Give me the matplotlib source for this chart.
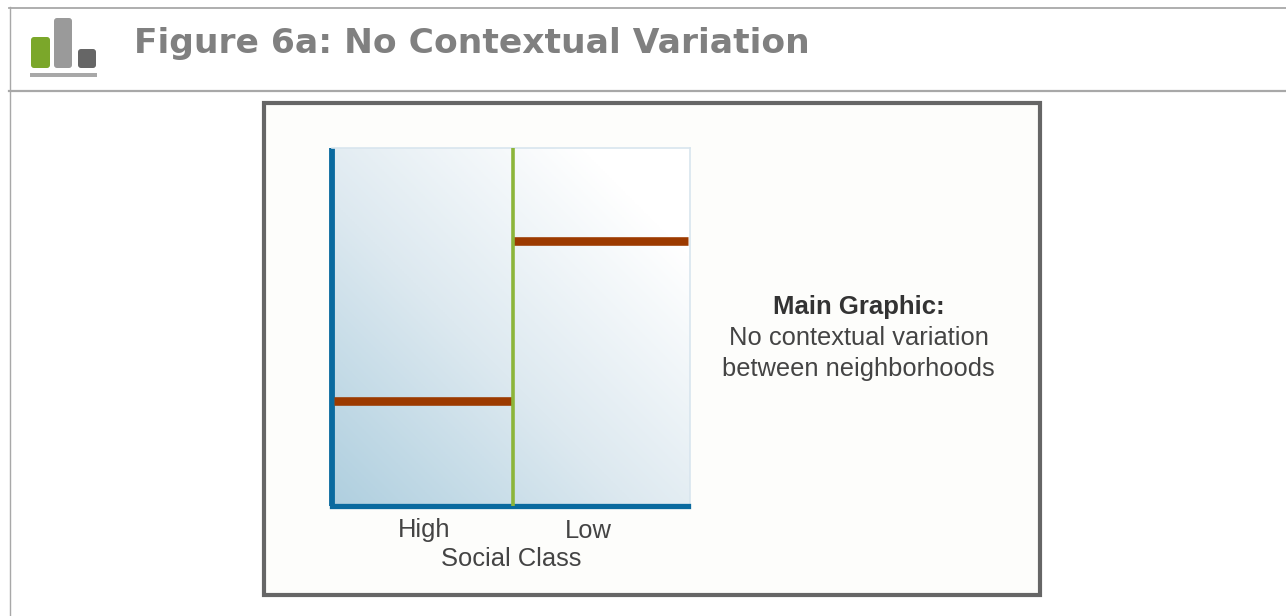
import matplotlib
matplotlib.use("Agg")
import matplotlib.pyplot as plt
from matplotlib.patches import FancyBboxPatch, Rectangle
from matplotlib.colors import LinearSegmentedColormap
import numpy as np

W, H = 1286, 616

# chart values
categories = ["High", "Low"]
values = [29.3, 74]
xlabel = "Social Class"
title = "Figure 6a: No Contextual Variation"
note_head = "Main Graphic:"
note_lines = ["No contextual variation", "between neighborhoods"]

# icon bars: height of each bar
icon_heights = [31, 50, 19]
icon_colors = ["#7ba72a", "#9a9a9a", "#666666"]

fig = plt.figure(figsize=(W / 100, H / 100), dpi=100, facecolor="white")

# page layer in pixel coordinates
page = fig.add_axes([0, 0, 1, 1])
page.set_xlim(0, W)
page.set_ylim(H, 0)
page.axis("off")

page.plot([9, W], [7.5, 7.5], color="#a8a8a8", lw=1.3)
page.plot([9, W], [91, 91], color="#a8a8a8", lw=1.6)
page.plot([9.5, 9.5], [7, H], color="#a8a8a8", lw=1.0)

# icon
for x0, w, h, c in zip([31, 54, 78], [19, 18, 18], icon_heights, icon_colors):
    page.add_patch(FancyBboxPatch((x0 + 3, 68 - h + 3), w - 6, h - 6,
                                  boxstyle="round,pad=3", fc=c, ec="none"))
page.add_patch(Rectangle((30, 73), 67, 4, fc="#a8a8a8", ec="none"))

page.text(134, 43, title, fontsize=24.8, fontweight="bold", color="#808080",
          family="DejaVu Sans", va="center", ha="left")

# chart frame
page.add_patch(Rectangle((264, 103), 776, 492, fc="#fdfdfb", ec="#666666", lw=3))

page.text(858.5, 307, note_head, fontsize=18.5, fontweight="bold", color="#333333",
          family="Liberation Sans", ha="center", va="center")
page.text(858.5, 338, note_lines[0], fontsize=18.4, color="#444444",
          family="Liberation Sans", ha="center", va="center")
page.text(858.5, 369, note_lines[1], fontsize=18.4, color="#444444",
          family="Liberation Sans", ha="center", va="center")

# plot
ax = fig.add_axes([332 / W, 1 - 506 / H, 358 / W, 358 / H])
ax.set_xlim(0, 2)
ax.set_ylim(0, 100)

cmap = LinearSegmentedColormap.from_list("bg", ["#afcfdf", "#dde9f0", "#ffffff"])
xx, yy = np.meshgrid(np.linspace(0, 1, 200), np.linspace(0, 1, 200))
ax.imshow((xx + yy) / 1.7, origin="lower", extent=[0, 2, 0, 100], aspect="auto",
          cmap=cmap, vmin=0, vmax=1, zorder=0)

# divider sits a little right of the middle in the original
divider = 1.011
ax.hlines(values[0], 0.012, divider, color="#9c3a00", lw=6.2, zorder=3)
ax.hlines(values[1], divider, 1.99, color="#9c3a00", lw=6.2, zorder=3)
ax.axvline(divider, color="#8cb53a", lw=2.6, zorder=4)

for side in ["left", "bottom"]:
    ax.spines[side].set_color("#0a6a9f")
ax.spines["left"].set_capstyle("butt")
ax.spines["bottom"].set_capstyle("projecting")
ax.spines["bottom"].set_bounds(0, 1.988)
ax.spines["left"].set_linewidth(4.2)
ax.spines["bottom"].set_linewidth(3.8)
for side in ["top", "right"]:
    ax.spines[side].set_color("#d8e5ee")
    ax.spines[side].set_linewidth(1.2)

ax.set_yticks([])
ax.set_xticks([0.514, 1.43])
ax.set_xticklabels(categories, fontsize=18.4, color="#444444", family="Liberation Sans")
ax.tick_params(axis="x", length=0, pad=9)
ax.set_xlabel(xlabel, fontsize=18.4, color="#444444", family="Liberation Sans", labelpad=3)

fig.savefig("out.png", dpi=100)
